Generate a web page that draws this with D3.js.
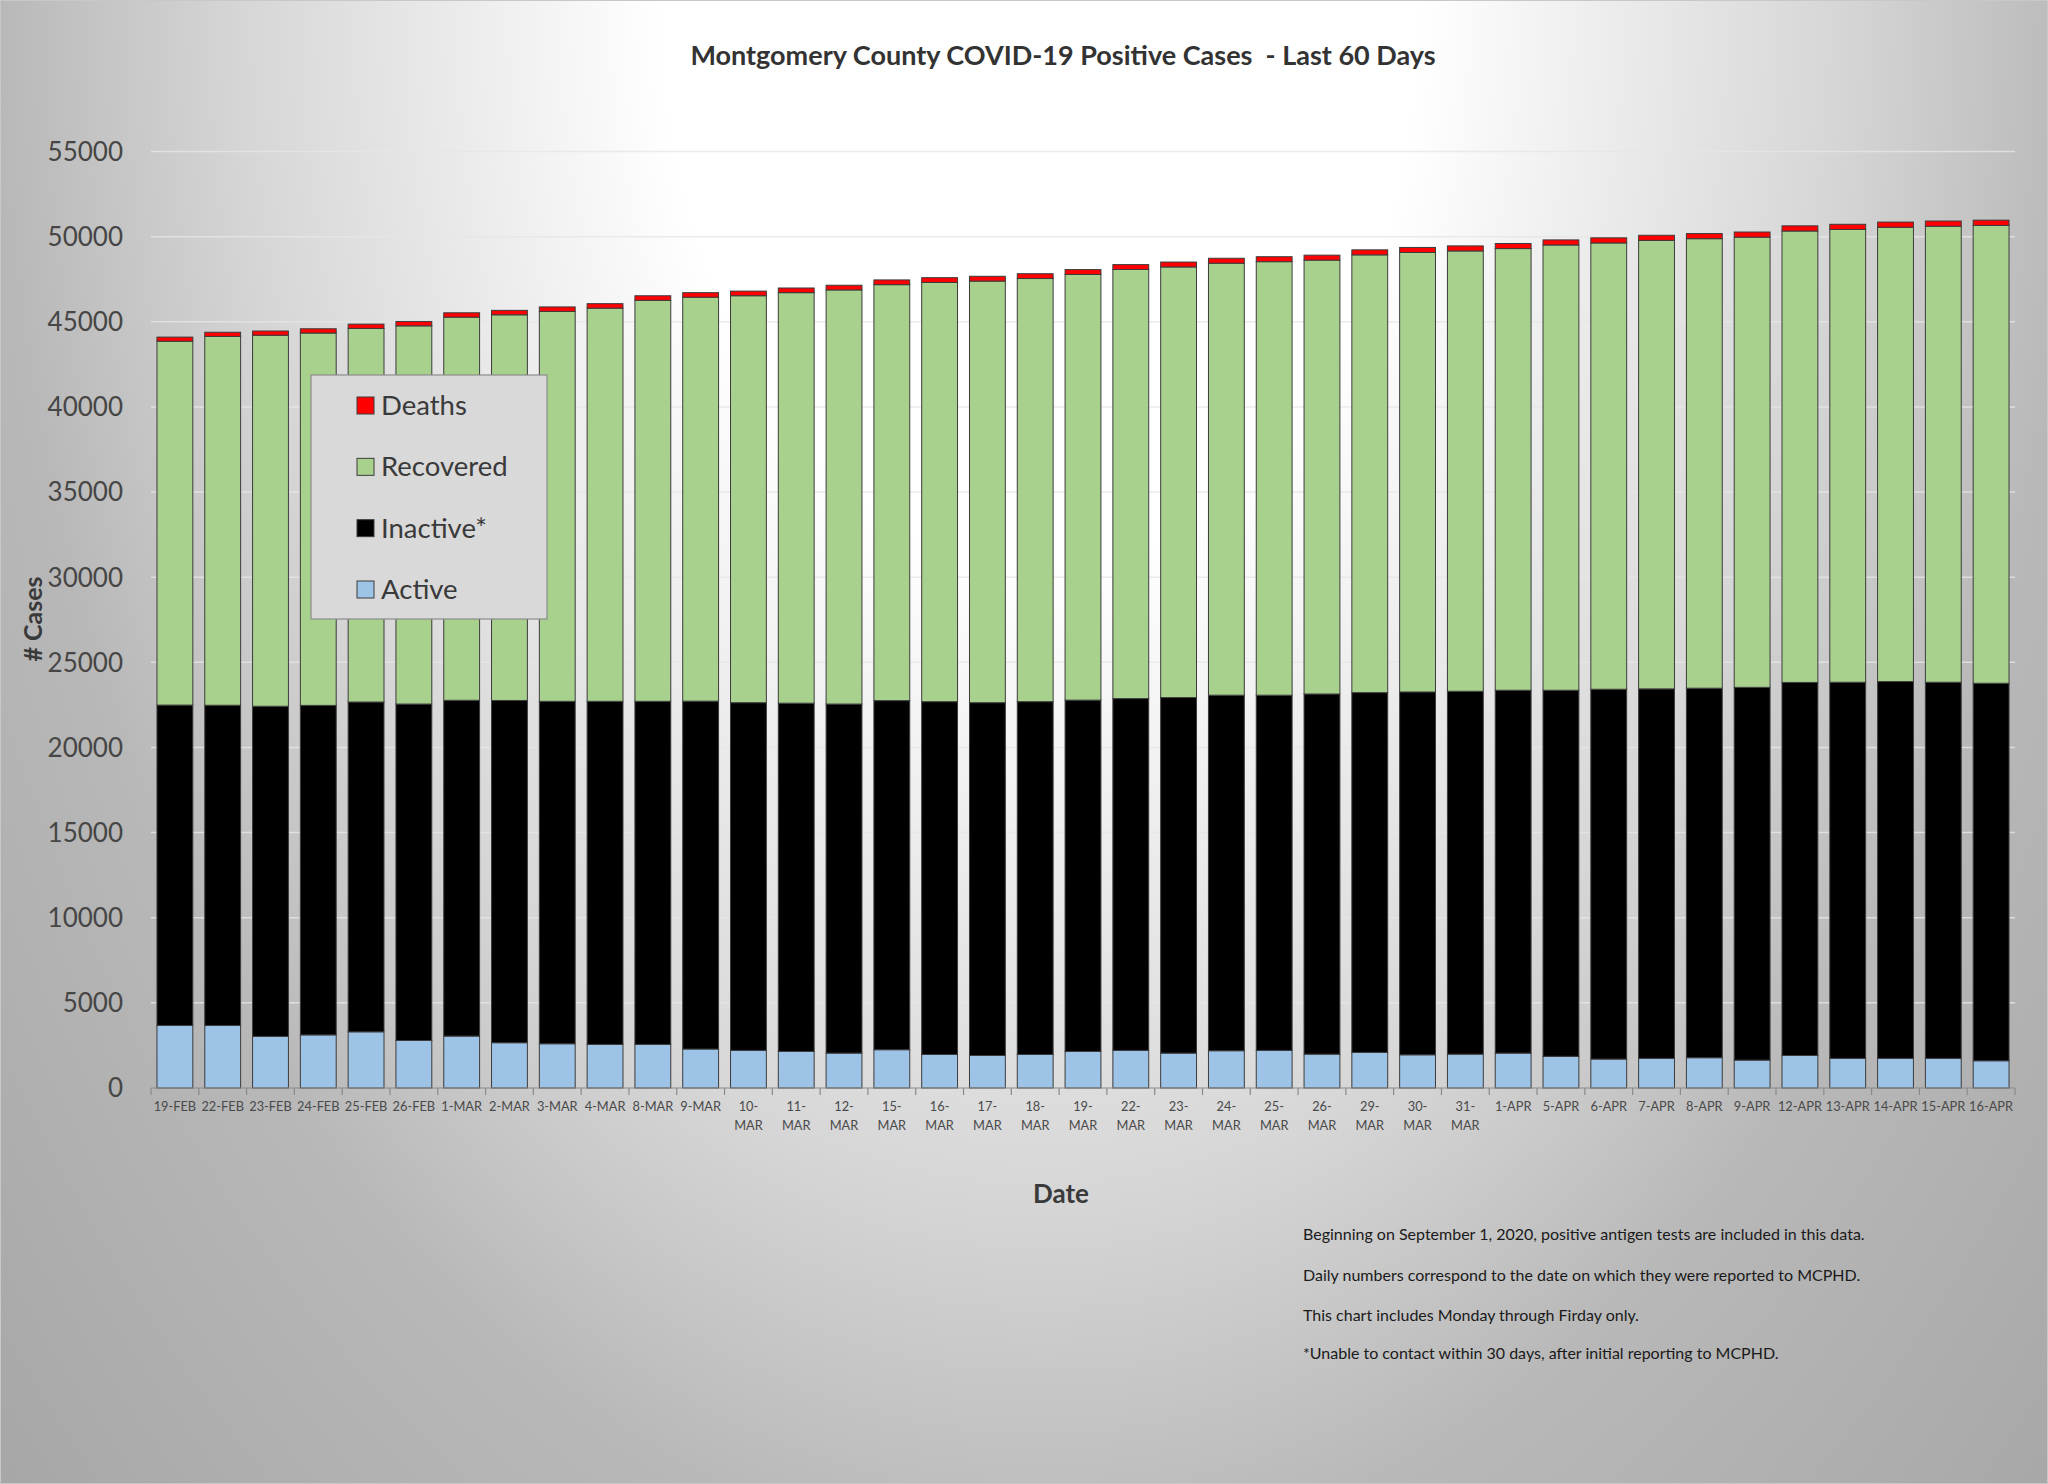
<!DOCTYPE html>
<html><head><meta charset="utf-8">
<script src="https://cdn.jsdelivr.net/npm/d3@7"></script>
<style>html,body{margin:0;padding:0;background:#fff}svg{display:block}</style>
</head><body>
<svg id="chart" width="2048" height="1484"></svg>
<script>
const categories = ["19-FEB","22-FEB","23-FEB","24-FEB","25-FEB","26-FEB","1-MAR","2-MAR","3-MAR","4-MAR","8-MAR","9-MAR","10-MAR","11-MAR","12-MAR","15-MAR","16-MAR","17-MAR","18-MAR","19-MAR","22-MAR","23-MAR","24-MAR","25-MAR","26-MAR","29-MAR","30-MAR","31-MAR","1-APR","5-APR","6-APR","7-APR","8-APR","9-APR","12-APR","13-APR","14-APR","15-APR","16-APR"];
const tickLines = [["19-FEB"],["22-FEB"],["23-FEB"],["24-FEB"],["25-FEB"],["26-FEB"],["1-MAR"],["2-MAR"],["3-MAR"],["4-MAR"],["8-MAR"],["9-MAR"],["10-","MAR"],["11-","MAR"],["12-","MAR"],["15-","MAR"],["16-","MAR"],["17-","MAR"],["18-","MAR"],["19-","MAR"],["22-","MAR"],["23-","MAR"],["24-","MAR"],["25-","MAR"],["26-","MAR"],["29-","MAR"],["30-","MAR"],["31-","MAR"],["1-APR"],["5-APR"],["6-APR"],["7-APR"],["8-APR"],["9-APR"],["12-APR"],["13-APR"],["14-APR"],["15-APR"],["16-APR"]];
const active    = [3670,3670,3030,3120,3300,2790,3050,2660,2600,2560,2560,2290,2210,2150,2050,2250,1970,1910,1970,2150,2210,2050,2190,2210,1990,2090,1950,1990,2050,1860,1700,1740,1780,1640,1910,1740,1740,1740,1600];
const inactive  = [18820,18810,19390,19350,19370,19760,19720,20100,20110,20150,20150,20430,20420,20450,20500,20500,20720,20720,20720,20630,20660,20880,20880,20860,21150,21130,21310,21310,21310,21500,21720,21700,21700,21890,21910,22090,22130,22090,22170];
const recovered = [21370,21660,21790,21870,21940,22210,22500,22650,22900,23090,23550,23720,23900,24110,24320,24430,24620,24760,24850,25000,25200,25290,25370,25460,25480,25710,25810,25860,25940,26150,26210,26340,26400,26440,26510,26590,26680,26780,26890];
const deaths    = [240,245,247,250,252,255,258,260,262,264,268,270,272,274,276,278,280,281,283,285,287,288,290,291,292,294,295,296,297,298,299,300,301,302,304,305,306,307,308];
const yTicks = [0,5000,10000,15000,20000,25000,30000,35000,40000,45000,50000,55000];
const seriesKeys = ["Active","Inactive*","Recovered","Deaths"];
const seriesColors = {"Active":"#9dc3e6","Inactive*":"#000000","Recovered":"#a9d18e","Deaths":"#ff0000"};
const legendOrder = ["Deaths","Recovered","Inactive*","Active"];
const titleText = "Montgomery County COVID-19 Positive Cases  - Last 60 Days";
const notes = ["Beginning on September 1, 2020, positive antigen tests are included in this data.",
"Daily numbers correspond to the date on which they were reported to MCPHD.",
"This chart includes Monday through Firday only.",
"*Unable to contact within 30 days, after initial reporting to MCPHD."];

const W = 2048, H = 1484;
const svg = d3.select("#chart");
const FONT = "Lato, 'Open Sans', sans-serif";

// background gradient
const defs = svg.append("defs");
const grad = defs.append("radialGradient").attr("id","bg")
  .attr("gradientUnits","userSpaceOnUse").attr("cx",0).attr("cy",0).attr("r",1450)
  .attr("gradientTransform","translate(1040,0) scale(1,1.5)");
[[0,"#ffffff"],[0.26,"#ffffff"],[0.55,"#d6d6d6"],[0.72,"#b8b8b8"],[1,"#a6a6a6"]].forEach(s=>
  grad.append("stop").attr("offset",s[0]).attr("stop-color",s[1]));
svg.append("rect").attr("width",W).attr("height",H).attr("fill","url(#bg)");
svg.append("rect").attr("x",0.5).attr("y",0.5).attr("width",W-1).attr("height",H-1)
  .attr("fill","none").attr("stroke","#c8c8c8");

const x = d3.scaleBand().domain(categories).range([151,2015]).paddingInner(0.25).paddingOuter(0.125);
const y = d3.scaleLinear().domain([0,55000]).range([1088,151.5]);

// gridlines
svg.append("g").selectAll("line").data(yTicks.filter(v=>v>0)).join("line")
  .attr("x1",151).attr("x2",2015).attr("y1",d=>y(d)).attr("y2",d=>y(d))
  .attr("stroke","#e6e6e6").attr("stroke-opacity",0.8).attr("stroke-width",1.5);

// y labels
svg.append("g").selectAll("text").data(yTicks).join("text")
  .attr("x",123).attr("y",d=>y(d)).attr("dy","0.36em").attr("text-anchor","end")
  .attr("font-family",FONT).attr("font-size",26).attr("fill","#464646").text(d=>d);

// stacked bars
const rows = categories.map((c,i)=>({cat:c,"Active":active[i],"Inactive*":inactive[i],"Recovered":recovered[i],"Deaths":deaths[i]}));
const stacked = d3.stack().keys(seriesKeys)(rows);
svg.append("g").selectAll("g").data(stacked).join("g")
  .attr("fill",d=>seriesColors[d.key])
  .selectAll("rect").data(d=>d).join("rect")
  .attr("x",d=>x(d.data.cat)).attr("width",x.bandwidth())
  .attr("y",d=>y(d[1])).attr("height",d=>y(d[0])-y(d[1]))
  .attr("stroke","#3c3c3c").attr("stroke-width",1);

// x axis line and ticks
const step = x.step();
svg.append("line").attr("x1",151).attr("x2",2015).attr("y1",y(0)).attr("y2",y(0))
  .attr("stroke","#8a8a8a").attr("stroke-width",1.2);
const bounds = categories.map(c=>x(c)-x.paddingInner()*step/2).concat([x(categories[categories.length-1])+x.bandwidth()+x.paddingInner()*step/2]);
svg.append("g").selectAll("line").data(bounds).join("line")
  .attr("x1",d=>d).attr("x2",d=>d).attr("y1",y(0)).attr("y2",y(0)+7)
  .attr("stroke","#8a8a8a").attr("stroke-width",1.2);

// x labels
const xl = svg.append("g").selectAll("text").data(categories).join("text")
  .attr("font-family",FONT).attr("font-size",12.8).attr("fill","#4a4a4a").attr("text-anchor","middle");
xl.each(function(c,i){
  const t = d3.select(this);
  tickLines[i].forEach((ln,k)=>{
    t.append("tspan").attr("x",x(c)+x.bandwidth()/2).attr("y",1111+k*19).text(ln);
  });
});

// title
svg.append("text").attr("x",1063).attr("y",56).attr("dy","0.35em").attr("text-anchor","middle")
  .attr("font-family",FONT).attr("font-weight","bold").attr("font-size",27).attr("fill","#333333")
  .attr("xml:space","preserve").style("white-space","pre").text(titleText);

// axis titles
svg.append("text").attr("x",1061).attr("y",1194).attr("dy","0.35em").attr("text-anchor","middle")
  .attr("font-family",FONT).attr("font-weight","bold").attr("font-size",26).attr("fill","#3a3a3a").text("Date");
svg.append("text").attr("transform","translate(33,619) rotate(-90)").attr("dy","0.35em").attr("text-anchor","middle")
  .attr("font-family",FONT).attr("font-weight","bold").attr("font-size",25).attr("fill","#3a3a3a").text("# Cases");

// legend
const lg = svg.append("g");
lg.append("rect").attr("x",311).attr("y",375).attr("width",236).attr("height",244)
  .attr("fill","#d9d9d9").attr("stroke","#8c8c8c").attr("stroke-width",1.2);
const ly = d3.scalePoint().domain(legendOrder).range([405,589]);
const li = lg.selectAll("g").data(legendOrder).join("g");
li.append("rect").attr("x",357).attr("y",d=>ly(d)-8).attr("width",17).attr("height",17)
  .attr("fill",d=>seriesColors[d]).attr("stroke","#3c3c3c").attr("stroke-width",1);
li.append("text").attr("x",381).attr("y",d=>ly(d)).attr("dy","0.36em")
  .attr("font-family",FONT).attr("font-size",27.5).attr("fill","#3a3a3a").text(d=>d);

// notes
svg.append("g").selectAll("text").data(notes).join("text")
  .attr("x",1303).attr("y",(d,i)=>[1234,1275,1315,1353][i]).attr("dy","0.35em")
  .attr("font-family",FONT).attr("font-size",16).attr("fill","#1a1a1a").text(d=>d);
</script>
</body></html>
